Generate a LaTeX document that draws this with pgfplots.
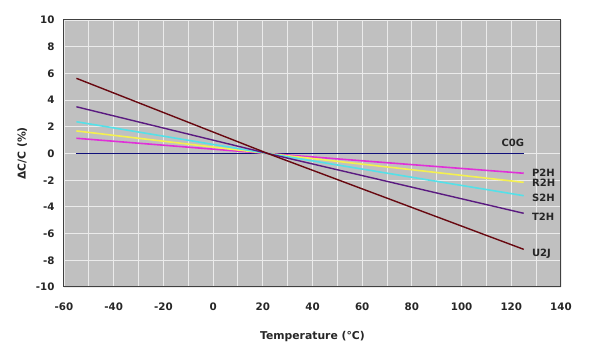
\documentclass[border=0pt]{standalone}
\usepackage{pgfplots}
\pgfplotsset{compat=1.18}
\usepackage{fontspec}
\setmainfont{DejaVu Sans}
\definecolor{bg}{HTML}{C0C0C0}
\definecolor{cog}{HTML}{10107A}
\definecolor{utwoj}{HTML}{680810}
\definecolor{ttwoh}{HTML}{5A1A80}
\definecolor{stwoh}{HTML}{55E0E8}
\definecolor{rtwoh}{HTML}{F4F050}
\definecolor{ptwoh}{HTML}{E030D8}
\begin{document}
\begin{tikzpicture}[x=1pt,y=1pt]
\path[use as bounding box] (-64,-74) rectangle (534,287);
\begin{axis}[
  at={(0,0)}, anchor=south west,
  scale only axis, width=497pt, height=267pt,
  xmin=-60, xmax=140, ymin=-10, ymax=10,
  xtick distance=20, ytick distance=2,
  minor x tick num=1,
  grid=both,
  major grid style={white!92!black, line width=0.9pt},
  minor grid style={white!92!black, line width=0.9pt},
  major tick length=0pt, minor tick length=0pt,
  axis background/.style={fill=bg},
  axis line style={black!75, line width=1pt},
  tick label style={font=\bfseries\fontsize{10.3}{12}\selectfont, text=black!85},
  /pgf/number format/assume math mode=true,
  xticklabel style={yshift=-12pt},
  yticklabel style={xshift=-6pt},
  xlabel={\bfseries Temperature (°C)},
  ylabel={\bfseries ΔC/C (\%)},
  label style={font=\bfseries\fontsize{10.8}{12}\selectfont, text=black!85},
  xlabel style={yshift=-14pt},
  ylabel style={yshift=2pt},
]
\addplot[cog, line width=1.4pt] coordinates {(-55,0) (125,0)};
\addplot[ptwoh, line width=1.6pt] coordinates {(-55,1.14) (22,0) (125,-1.48)};
\addplot[rtwoh, line width=1.6pt] coordinates {(-55,1.69) (22,0) (125,-2.16)};
\addplot[stwoh, line width=1.6pt] coordinates {(-55,2.38) (22,0) (125,-3.16)};
\addplot[ttwoh, line width=1.4pt] coordinates {(-55,3.5) (22,0) (125,-4.48)};
\addplot[utwoj, line width=1.4pt] coordinates {(-55,5.63) (22,0) (125,-7.18)};
\begin{scope}[font=\bfseries\fontsize{10}{11}\selectfont, text=black!85, anchor=west, inner sep=0pt]
\node at (axis cs:116,0.76) {C0G};
\node at (axis cs:128.3,-1.44) {P2H};
\node at (axis cs:128.3,-2.19) {R2H};
\node at (axis cs:128.3,-3.36) {S2H};
\node at (axis cs:128.3,-4.73) {T2H};
\node at (axis cs:128.3,-7.48) {U2J};
\end{scope}
\end{axis}
\end{tikzpicture}
\end{document}
